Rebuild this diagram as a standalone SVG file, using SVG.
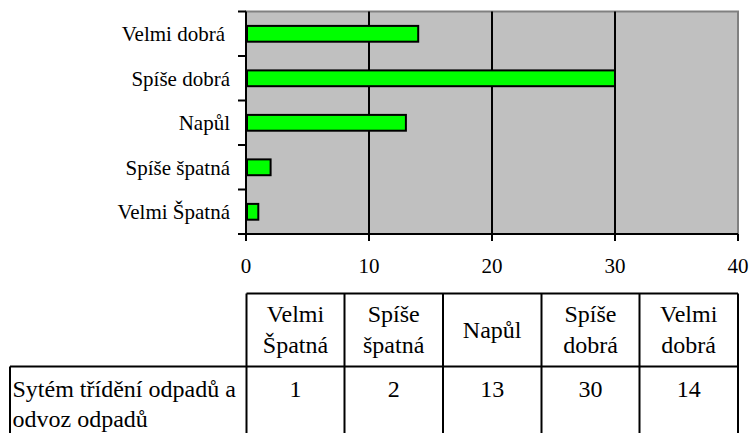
<svg xmlns="http://www.w3.org/2000/svg" width="749" height="433" viewBox="0 0 749 433">
<style>
text{fill:#000}
.lbl{font-size:21px;text-anchor:end}
.tk{font-size:21px;text-anchor:middle}
.tt{font-size:24px}
.c{text-anchor:middle}
.bar{fill:#00ff00;stroke:#000;stroke-width:2}
.ax{stroke:#000;stroke-width:2;fill:none}
.grid{stroke:#000;stroke-width:2}
.tbl{stroke:#000;stroke-width:2;fill:none}
</style>
<rect width="749" height="433" fill="#fff"/>
<g id="plot">
<rect x="246" y="11.5" width="492" height="222.5" fill="#c0c0c0" stroke="#808080" stroke-width="2"/>
<g class="grid">
<line x1="369" y1="11.5" x2="369" y2="234"/>
<line x1="492" y1="11.5" x2="492" y2="234"/>
<line x1="615" y1="11.5" x2="615" y2="234"/>
</g>
</g>
<g id="bars">
<rect class="bar" x="247" y="25.9" width="171.2" height="15.8"/>
<rect class="bar" x="247" y="70.4" width="368" height="15.8"/>
<rect class="bar" x="247" y="114.9" width="158.9" height="15.8"/>
<rect class="bar" x="247" y="159.4" width="23.6" height="15.8"/>
<rect class="bar" x="247" y="203.9" width="11.3" height="15.8"/>
</g>
<g id="axes">
<path class="ax" d="M246 11.5V234H738"/>
<path class="ax" d="M238 11.5H246M238 56H246M238 100.5H246M238 145H246M238 189.5H246M238 234H246"/>
<path class="ax" d="M246 234V241M369 234V241M492 234V241M615 234V241M738 234V241"/>
</g>
<g id="labels" font-family="Liberation Serif, DejaVu Serif, serif">
<text class="lbl" x="225" y="41">Velmi dobrá</text>
<text class="lbl" x="230" y="85.5">Spíše dobrá</text>
<text class="lbl" x="230" y="130">Napůl</text>
<text class="lbl" x="230" y="174.5">Spíše špatná</text>
<text class="lbl" x="230" y="219">Velmi Špatná</text>
<text class="tk" x="246" y="273">0</text>
<text class="tk" x="369" y="273">10</text>
<text class="tk" x="492" y="273">20</text>
<text class="tk" x="615" y="273">30</text>
<text class="tk" x="738" y="273">40</text>
</g>
<g id="table" font-family="Liberation Serif, DejaVu Serif, serif">
<path class="tbl" d="M246.5 293.5H738M10 366.5H738M10 366.5V433M246.5 293.5V433M344.5 293.5V433M443 293.5V433M541.5 293.5V433M639.5 293.5V433M738 293.5V433"/>
<text class="tt c" x="295.5" y="321.5">Velmi</text>
<text class="tt c" x="295.5" y="353">Špatná</text>
<text class="tt c" x="393.7" y="321.5">Spíše</text>
<text class="tt c" x="393.7" y="353">špatná</text>
<text class="tt c" x="492.2" y="337.5">Napůl</text>
<text class="tt c" x="590.5" y="321.5">Spíše</text>
<text class="tt c" x="590.5" y="353">dobrá</text>
<text class="tt c" x="688.7" y="321.5">Velmi</text>
<text class="tt c" x="688.7" y="353">dobrá</text>
<text class="tt" x="12.5" y="396.5">Sytém třídění odpadů a</text>
<text class="tt" x="12.5" y="426.5">odvoz odpadů</text>
<text class="tt c" x="295.5" y="396.5">1</text>
<text class="tt c" x="393.7" y="396.5">2</text>
<text class="tt c" x="492.2" y="396.5">13</text>
<text class="tt c" x="590.5" y="396.5">30</text>
<text class="tt c" x="688.7" y="396.5">14</text>
</g>
</svg>
